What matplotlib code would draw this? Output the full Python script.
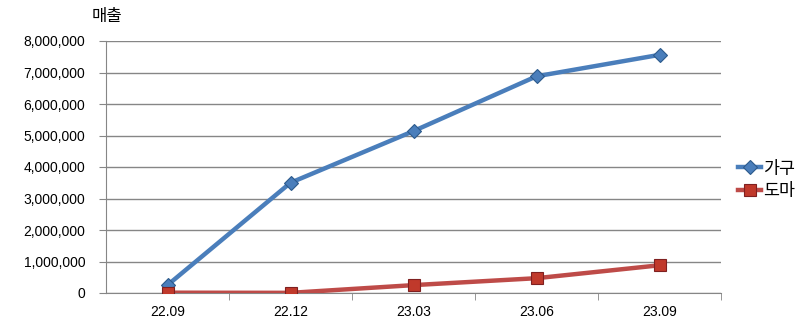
import matplotlib.pyplot as plt
import matplotlib.ticker as mticker

plt.rcParams['font.family'] = ['Liberation Sans', 'Noto Sans CJK KR', 'DejaVu Sans']

periods = ['22.09', '22.12', '23.03', '23.06', '23.09']
furniture = [250000, 3500000, 5140000, 6880000, 7560000]
knife = [10000, 5000, 250000, 470000, 880000]
series_names = ['가구', '도마']

fig = plt.figure(figsize=(8.06, 3.28), dpi=100)
ax = fig.add_axes([106 / 806, 35 / 328, 615 / 806, 252 / 328])

x = list(range(len(periods)))
ax.plot(x, furniture, color='#4a7ebb', linewidth=3.2, marker='D', markersize=7,
        markerfacecolor='#4a7ebb', markeredgecolor='#2c5a8c', markeredgewidth=0.8,
        label=series_names[0], zorder=3)
ax.plot(x, knife, color='#be4b48', linewidth=3.2, marker='s', markersize=8,
        markerfacecolor='#c0392b', markeredgecolor='#7f2020', markeredgewidth=0.8,
        label=series_names[1], zorder=3)

ax.set_xlim(-0.5, len(periods) - 0.5)
ax.set_ylim(0, 8000000)
ax.set_yticks(range(0, 8000001, 1000000))
ax.yaxis.set_major_formatter(mticker.FuncFormatter(lambda v, p: f'{int(v):,}'))
ax.set_xticks(x)
ax.set_xticklabels(periods)
ax.set_xticks([i + 0.5 for i in range(len(periods))], minor=True)

ax.grid(axis='y', color='#868686', linewidth=1)
ax.set_axisbelow(True)
for s in ['top', 'right']:
    ax.spines[s].set_visible(False)
ax.spines['left'].set_color('#868686')
ax.spines['bottom'].set_color('#868686')
ax.tick_params(axis='x', which='major', length=0, labelsize=10, pad=9)
ax.tick_params(axis='x', which='minor', length=5, color='#868686')
ax.tick_params(axis='y', length=5, color='#868686', labelsize=10, pad=10)

fig.text(107 / 806, 1 - 17 / 328, '매출', ha='center', va='center', fontsize=12)

ax.legend(loc='center left', bbox_to_anchor=(1.0, 0.45), frameon=False,
          fontsize=12.5, handlelength=1.3, handletextpad=0.1, labelspacing=0.35,
          borderaxespad=0.6)

fig.savefig('out.png', dpi=100)
